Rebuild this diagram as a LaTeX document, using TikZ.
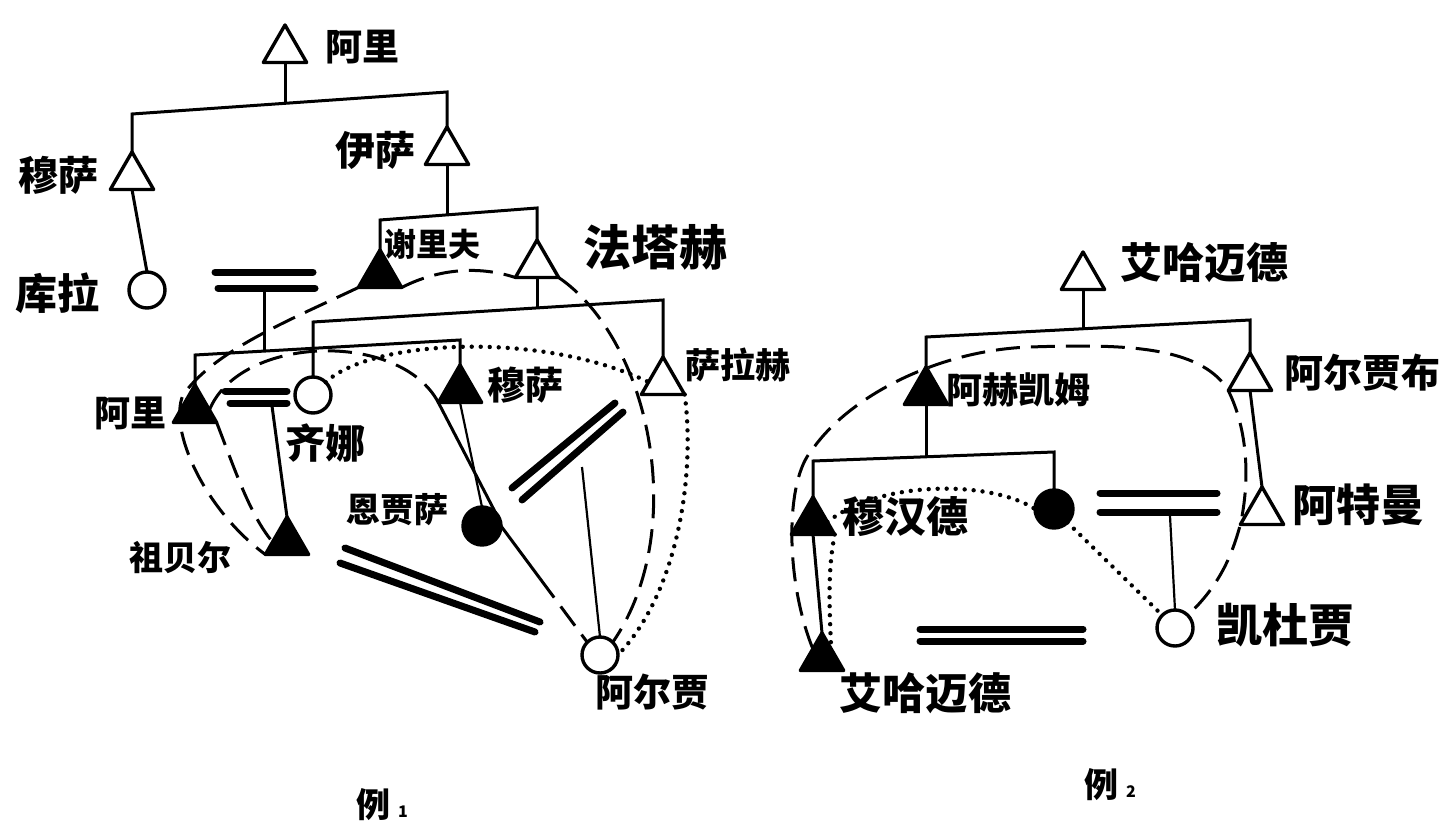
\documentclass[tikz,border=0pt]{standalone}
\usepackage{fontspec}
\newfontfamily\cjk{Noto Sans CJK SC}
\usetikzlibrary{shapes.geometric,calc}
\begin{document}
\begin{tikzpicture}[x=1pt,y=-1pt,
  tri/.style={regular polygon,regular polygon sides=3,minimum size=50pt,inner sep=0pt,outer sep=0pt,draw,line width=3.4pt,line join=round},
  otri/.style={tri,fill=white},
  ftri/.style={tri,fill=black},
  circ/.style={circle,minimum size=36pt,inner sep=0pt,outer sep=0pt,draw,line width=3.4pt,fill=white},
  fcirc/.style={circ,fill=black,minimum size=38pt},
  ln/.style={line width=3pt},
  thn/.style={line width=2.2pt},
  bar/.style={line width=7pt,line cap=round},
  dsh/.style={line width=3pt,dash pattern=on 24pt off 11pt},
  dtt/.style={line width=4.4pt,line cap=round,dash pattern=on 0pt off 9pt},
  lab/.style={font=\cjk\bfseries\fontsize{#1}{#1}\selectfont,inner sep=0pt},
  lab/.default=36]
\useasboundingbox (0,0) rectangle (1447,832);

% ---------------- Example 1 : nodes ----------------
\node[otri]  (a1)   at (285,50)  {};
\node[otri]  (mu1)  at (132,177) {};
\node[otri]  (isa)  at (447,152) {};
\node[circ]  (kula) at (147,290) {};
\node[ftri]  (shr)  at (380,275) {};
\node[otri]  (fat)  at (537,265) {};
\node[ftri]  (ali2) at (195,410) {};
\node[ftri]  (mu2)  at (460,390) {};
\node[circ]  (qina) at (313,395) {};
\node[otri]  (sal)  at (663,382) {};
\node[ftri]  (zub)  at (287,542) {};
\node[fcirc] (enj)  at (482,526) {};
\node[circ]  (arj)  at (600,655) {};

% labels
\node[lab=37] (la1)   at (362,47)  {阿里};
\node[lab=40] (lmu1)  at (58,175)  {穆萨};
\node[lab=40] (lisa)  at (375,150) {伊萨};
\node[lab=42] (lkula) at (57,293)  {库拉};
\node[lab=32] (lshr)  at (432,244) {谢里夫};
\node[lab=48] (lfat)  at (655,247) {法塔赫};
\node[lab=36] (lali2) at (130,413) {阿里};
\node[lab=40] (lqina) at (325,443) {齐娜};
\node[lab=38] (lmu2)  at (525,385) {穆萨};
\node[lab=35] (lsal)  at (738,365) {萨拉赫};
\node[lab=34] (lzub)  at (180,558) {祖贝尔};
\node[lab=34] (lenj)  at (397,510) {恩贾萨};
\node[lab=38] (larj)  at (652,692) {阿尔贾};
\node[lab=34] (ex1)   at (382,805) {例\hspace{8pt}{\fontsize{16}{16}\selectfont 1}};

% tree lines
\coordinate (b1l) at (132,114); \coordinate (b1r) at (447,92); \coordinate (b1m) at (285,103);
\draw[ln] (a1.south) -- (b1m);
\draw[ln] (mu1.north) -- (b1l) -- (b1r) -- (isa.north);
\draw[ln] (mu1.south) -- (kula.north);
\coordinate (b2l) at (380,220); \coordinate (b2r) at (537,208); \coordinate (b2m) at (447,214.9);
\draw[ln] (isa.south) -- (b2m);
\draw[ln] (shr.north) -- (b2l) -- (b2r) -- (fat.north);
\coordinate (b3l) at (313,322); \coordinate (b3r) at (663,300); \coordinate (b3m) at (537,307.9);
\draw[ln] (fat.south) -- (b3m);
\draw[ln] (qina.north) -- (b3l) -- (b3r) -- (sal.north);
% marriage 1 and children
\draw[bar] (215,272) coordinate (m1a) -- (313,272) coordinate (m1b);
\draw[bar] (218,288) coordinate (m1c) -- (315,288) coordinate (m1d);
\coordinate (m1s) at (264,291); \coordinate (b4l) at (195,355); \coordinate (b4r) at (460,340); \coordinate (b4m) at (264,351.1);
\draw[ln] (m1s) -- (b4m);
\draw[ln] (ali2.north) -- (b4l) -- (b4r) -- (mu2.north);
% marriage 2
\draw[bar] (225,391) coordinate (m2a) -- (287,391) coordinate (m2b);
\draw[bar] (230,403) coordinate (m2c) -- (287,403) coordinate (m2d);
\coordinate (m2s) at (272,406);
\draw[ln] (m2s) -- (zub.north);
% marriage 3 (diagonal)
\draw[bar] (512,488) coordinate (m3a) -- (615,403) coordinate (m3b);
\draw[bar] (522,500) coordinate (m3c) -- (623,412) coordinate (m3d);
\coordinate (m3s) at (582,467);
\draw[thn] (m3s) -- (arj.north);
% marriage 4 (diagonal, lower)
\draw[bar] (345,548) coordinate (m4a) -- (540,622) coordinate (m4b);
\draw[bar] (340,563) coordinate (m4c) -- (535,632) coordinate (m4d);
% musa -> enjasa
\draw[thn] (mu2.south) -- (enj.north);
\draw[ln] (mu2.corner 2) -- (enj.north east);
\coordinate (ea) at ($(enj.east)!0.45!(arj.north west)$);
\draw[ln] (enj.east) -- (ea);
\draw[dsh] (ea) -- (arj.north west);

% dashed / dotted lines (example 1)
\draw[dsh] (shr.corner 2) .. controls (290,320) and (215,350) .. (183,395)
           .. controls (168,430) and (205,510) .. (zub.corner 2);
\draw[dsh] (shr.corner 3) .. controls (440,268) and (480,266) .. (fat.corner 2);
\draw[dsh] (fat.corner 3) .. controls (650,340) and (690,530) .. (arj.north east);
\draw[dsh] (ali2.east) .. controls (240,335) and (400,330) .. (mu2.corner 2);
\draw[dsh] (ali2.corner 3) .. controls (235,470) and (250,515) .. (zub.west);
\draw[dtt] (qina.north east) .. controls (370,340) and (540,330) .. (sal.west);
\draw[dtt] (sal.corner 3) .. controls (695,470) and (680,590) .. (arj.east);

% ---------------- Example 2 : nodes ----------------
\node[otri]  (ah1)  at (1083,277) {};
\node[ftri]  (ahk)  at (926,392)  {};
\node[otri]  (arb)  at (1250,378) {};
\node[ftri]  (muh)  at (813,522)  {};
\node[fcirc] (fc)   at (1054,509) {};
\node[otri]  (atm)  at (1262,512) {};
\node[circ]  (kdj)  at (1175,628) {};
\node[ftri]  (ah2)  at (822,658)  {};

\node[lab=42] (lah1) at (1204,263) {艾哈迈德};
\node[lab=36] (lahk) at (1018,390) {阿赫凯姆};
\node[lab=39] (larb) at (1362,373) {阿尔贾布};
\node[lab=42] (lmuh) at (905,517)  {穆汉德};
\node[lab=44] (latm) at (1358,505) {阿特曼};
\node[lab=46] (lkdj) at (1285,625) {凯杜贾};
\node[lab=43] (lah2) at (925,693)  {艾哈迈德};
\node[lab=34] (ex2)  at (1110,785) {例\hspace{8pt}{\fontsize{16}{16}\selectfont 2}};

% tree lines
\coordinate (r1l) at (926,337); \coordinate (r1r) at (1250,320); \coordinate (r1m) at (1083,328.8);
\draw[ln] (ah1.south) -- (r1m);
\draw[ln] (ahk.north) -- (r1l) -- (r1r) -- (arb.north);
\coordinate (r2l) at (813,461); \coordinate (r2r) at (1054,452); \coordinate (r2m) at (926,456.8);
\draw[ln] (ahk.south) -- (r2m);
\draw[ln] (muh.north) -- (r2l) -- (r2r) -- (fc.north);
\draw[ln] (muh.south) -- (ah2.north);
\draw[ln] (arb.south) -- (atm.north);
% marriages
\draw[bar] (1100,493) coordinate (n1a) -- (1217,493) coordinate (n1b);
\draw[bar] (1100,512) coordinate (n1c) -- (1217,512) coordinate (n1d);
\coordinate (n1s) at (1170,516);
\draw[thn] (n1s) -- (kdj.north);
\draw[bar] (920,629) coordinate (n2a) -- (1083,629) coordinate (n2b);
\draw[bar] (920,641) coordinate (n2c) -- (1083,641) coordinate (n2d);

% dashed / dotted lines (example 2)
\draw[dsh] (ah2.north west) .. controls (785,580) and (785,480) .. (812,450)
           .. controls (850,395) and (940,350) .. (1030,347)
           .. controls (1120,344) and (1200,345) .. (1228,390)
           .. controls (1248,430) and (1250,480) .. (atm.corner 2)
           .. controls (1232,555) and (1220,585) .. (kdj.north east);
\draw[dtt] (muh.east) .. controls (880,480) and (990,480) .. (fc.west);
\draw[dtt] (fc.south east) -- (kdj.north west);
\draw[dtt] (muh.corner 3) .. controls (828,570) and (829,600) .. (ah2.north east);
\end{tikzpicture}
\end{document}
